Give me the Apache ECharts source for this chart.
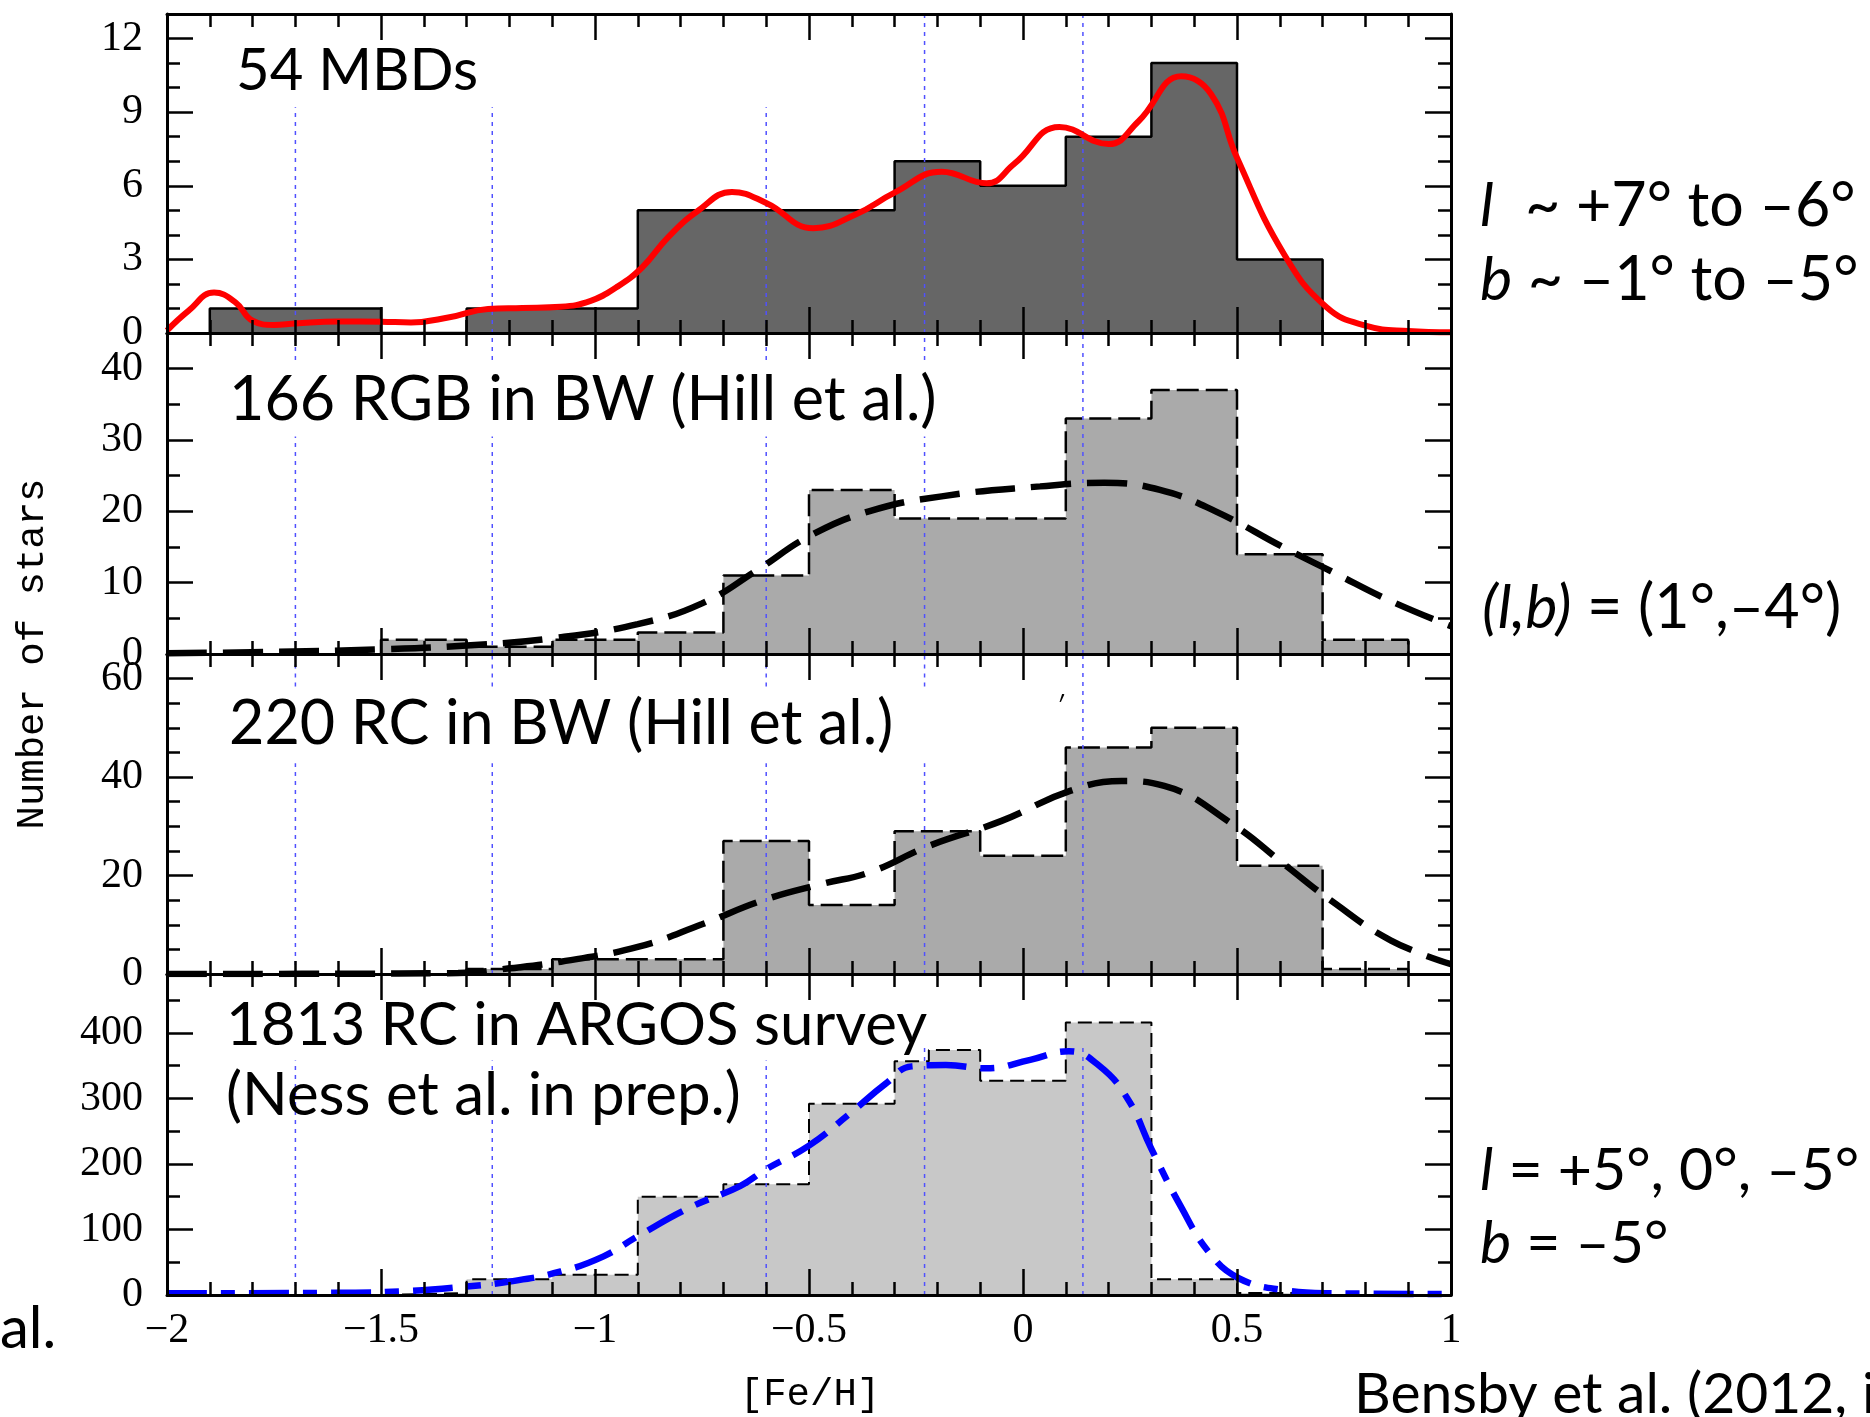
<!DOCTYPE html>
<html>
<head>
<meta charset="utf-8">
<title>[Fe/H] distributions</title>
<script src="https://cdn.jsdelivr.net/npm/echarts@6.0.0/dist/echarts.min.js"></script>
<style>
  html, body { margin: 0; padding: 0; background: #fff; }
  #chart { width: 1870px; height: 1417px; }
</style>
</head>
<body>
<div id="chart"></div>
<script>
// [Fe/H] axis
const xMin = -2, xMax = 1, xStep = 0.5, xMinorSplit = 5;

// y axes of the four panels, top to bottom
const yMax = [13, 45, 65, 490];
const yMajor = [3, 10, 20, 100];
const yMinor = [1, 5, 5, 50];

// histograms (bin edges + counts)
const mbdEdges = [-1.9, -1.7, -1.5, -1.3, -1.1, -0.9, -0.7, -0.5, -0.3, -0.1, 0.1, 0.3, 0.5, 0.7];
const mbdCounts = [1, 1, 0, 1, 1, 5, 5, 5, 7, 6, 8, 11, 3];

const rgbEdges = [-1.5, -1.3, -1.1, -0.9, -0.7, -0.5, -0.3, -0.1, 0.1, 0.3, 0.5, 0.7, 0.9];
const rgbCounts = [2, 1, 2, 3, 11, 23, 19, 19, 33, 37, 14, 2];

const rcEdges = [-1.3, -1.1, -0.9, -0.7, -0.5, -0.3, -0.1, 0.1, 0.3, 0.5, 0.7, 0.9];
const rcCounts = [1, 3, 3, 27, 14, 29, 24, 46, 50, 22, 1];

const argosEdges = [-1.5, -1.3, -1.1, -0.9, -0.7, -0.5, -0.3, -0.22, -0.1, 0.1, 0.3, 0.5, 0.7];
const argosCounts = [3, 24, 31, 150, 169, 292, 357, 374, 327, 416, 24, 3];

// smoothed distributions
const mbdFitX = [-2.0, -1.95, -1.89, -1.84, -1.80, -1.75, -1.70, -1.60, -1.50, -1.43, -1.34, -1.25, -1.17, -1.08, -1.01, -0.95, -0.89, -0.83, -0.76, -0.68, -0.60, -0.49, -0.39, -0.30, -0.19, -0.085, -0.02, 0.085, 0.20, 0.27, 0.37, 0.44, 0.50, 0.61, 0.71, 0.80, 0.90, 1.0];
const mbdFitY = [0.1, 0.9, 1.65, 1.25, 0.5, 0.33, 0.39, 0.47, 0.46, 0.43, 0.64, 0.98, 1.02, 1.07, 1.31, 1.86, 2.67, 3.89, 4.97, 5.75, 5.3, 4.27, 4.84, 5.72, 6.57, 6.1, 6.9, 8.4, 7.7, 8.63, 10.46, 9.72, 7.14, 3.21, 1.04, 0.3, 0.08, 0.03];

const rgbFitX = [-2.0, -1.75, -1.5, -1.3, -1.1, -0.9, -0.75, -0.62, -0.5, -0.36, -0.19, 0.04, 0.19, 0.32, 0.45, 0.61, 0.72, 0.86, 1.0];
const rgbFitY = [0.1, 0.3, 0.65, 1.2, 2.2, 4.2, 7.1, 11.8, 16.5, 20.0, 22.1, 23.5, 24.0, 23.0, 20.0, 14.9, 11.6, 7.4, 3.9];

const rcFitX = [-2.0, -1.6, -1.32, -1.2, -1.08, -0.9, -0.75, -0.61, -0.47, -0.36, -0.22, -0.05, 0.11, 0.23, 0.33, 0.49, 0.61, 0.72, 0.86, 1.0];
const rcFitY = [0, 0.05, 0.2, 1.15, 2.5, 5.5, 10.1, 14.9, 18.3, 20.6, 26.0, 31.1, 37.2, 39.2, 38.2, 30.4, 22.3, 14.9, 6.8, 2.0];

const argosFitX = [-2.0, -1.56, -1.44, -1.32, -1.2, -1.08, -0.98, -0.9, -0.78, -0.66, -0.6, -0.5, -0.41, -0.32, -0.26, -0.18, -0.085, 0.017, 0.107, 0.176, 0.244, 0.30, 0.368, 0.436, 0.504, 0.606, 0.719, 1.0];
const argosFitY = [2.5, 3.6, 6, 11.8, 20.5, 35.9, 59, 89.7, 133, 166.7, 192, 228, 274, 323, 349, 351, 346, 359, 372, 351, 300, 223, 136, 64, 25.6, 7.7, 2.6, 1.5];

// blue dotted guides and the parts of them that are drawn in each panel
const guideX = [-1.70, -1.24, -0.60, -0.23, 0.14];
const guideSpans = [
  [[[0, 9.2]], [[0, 9.2]], [[0, 9.2]], [[0, 13]], [[0, 13]]],
  [[[0, 30.5], [41.2, 45]], [[0, 30.5], [41.2, 45]], [[0, 30.5], [41.2, 45]], [[0, 30.5], [41.2, 45]], [[0, 45]]],
  [[[0, 42.8], [58.4, 65]], [[0, 42.8], [58.4, 65]], [[0, 42.8], [58.4, 65]], [[0, 42.8], [58.4, 65]], [[0, 65]]],
  [[[0, 358]], [[0, 358]], [[0, 358]], [[0, 377]], [[0, 381]]]
];

const panels = [
  { edges: mbdEdges, counts: mbdCounts, fill: '#666666', edgeType: 'solid', edgeWidth: 2.5,
    fitX: mbdFitX, fitY: mbdFitY, fitColor: '#ff0000', fitType: 'solid', fitWidth: 6 },
  { edges: rgbEdges, counts: rgbCounts, fill: '#aaaaaa', edgeType: [22, 7], edgeWidth: 2.5,
    fitX: rgbFitX, fitY: rgbFitY, fitColor: '#000000', fitType: [40, 16], fitWidth: 6.5 },
  { edges: rcEdges, counts: rcCounts, fill: '#aaaaaa', edgeType: [22, 7], edgeWidth: 2.5,
    fitX: rcFitX, fitY: rcFitY, fitColor: '#000000', fitType: [40, 16], fitWidth: 6.5 },
  { edges: argosEdges, counts: argosCounts, fill: '#c8c8c8', edgeType: [14, 7], edgeWidth: 2,
    fitX: argosFitX, fitY: argosFitY, fitColor: '#0000ff', fitType: [40, 14, 14, 14], fitWidth: 6.5 }
];

const grids = [
  { left: 167, top: 14, width: 1284, height: 319 },
  { left: 167, top: 333, width: 1284, height: 321 },
  { left: 167, top: 654, width: 1284, height: 320 },
  { left: 167, top: 974, width: 1284, height: 321 }
];

const tickFont = 'Liberation Serif';
const textFont = 'Lato';

function stepPoints(edges, counts) {
  const pts = [[edges[0], 0]];
  counts.forEach((c, i) => {
    pts.push([edges[i], c], [edges[i + 1], c]);
  });
  pts.push([edges[edges.length - 1], 0]);
  return pts;
}

function fmtFeH(v) {
  return v < 0 ? '\u2212' + Math.abs(v) : String(v);
}

const frameLine = { show: true, onZero: false, lineStyle: { color: '#000', width: 3 } };

let xAxes = [], yAxes = [], series = [];

grids.forEach((g, i) => {
  const xBase = {
    type: 'value', gridIndex: i, min: xMin, max: xMax, interval: xStep, z: 10,
    axisLine: frameLine,
    splitLine: { show: false },
    minorSplitLine: { show: false },
    axisTick: { show: true, inside: true, length: 26, lineStyle: { color: '#000', width: 2.5 } },
    minorTick: { show: true, splitNumber: xMinorSplit, length: 13, lineStyle: { color: '#000', width: 2.5 } }
  };
  xAxes.push(Object.assign({}, xBase, {
    position: 'bottom',
    axisLabel: i === 3
      ? { show: true, color: '#000', fontFamily: tickFont, fontSize: 42, margin: 15, formatter: fmtFeH }
      : { show: false }
  }));
  xAxes.push(Object.assign({}, xBase, { position: 'top', axisLabel: { show: false } }));

  const yBase = {
    type: 'value', gridIndex: i, min: 0, max: yMax[i], z: 10,
    splitLine: { show: false }
  };
  const major = Object.assign({}, yBase, {
    interval: yMajor[i],
    axisLine: frameLine,
    axisTick: { show: true, inside: true, length: 26, lineStyle: { color: '#000', width: 2.5 } }
  });
  const minor = Object.assign({}, yBase, {
    interval: yMinor[i],
    axisLine: { show: false, onZero: false },
    axisTick: { show: true, inside: true, length: 13, lineStyle: { color: '#000', width: 2.5 } },
    axisLabel: { show: false }
  });
  yAxes.push(Object.assign({}, major, {
    position: 'left',
    axisLabel: { show: true, color: '#000', fontFamily: tickFont, fontSize: 42, margin: 24, showMaxLabel: false }
  }));
  yAxes.push(Object.assign({}, minor, { position: 'left' }));
  yAxes.push(Object.assign({}, major, { position: 'right', axisLabel: { show: false } }));
  yAxes.push(Object.assign({}, minor, { position: 'right' }));

  const p = panels[i];
  series.push({
    type: 'line', xAxisIndex: 2 * i, yAxisIndex: 4 * i, z: 2, silent: true,
    symbol: 'none', data: stepPoints(p.edges, p.counts),
    lineStyle: { color: '#000', width: p.edgeWidth, type: p.edgeType },
    areaStyle: { color: p.fill, opacity: 1 }
  });

  guideX.forEach((gx, k) => {
    guideSpans[i][k].forEach(span => {
      series.push({
        type: 'line', xAxisIndex: 2 * i, yAxisIndex: 4 * i, z: 3, silent: true,
        symbol: 'none', data: [[gx, span[0]], [gx, span[1]]],
        lineStyle: { color: '#5050ff', width: 1.5, type: [4, 5] }
      });
    });
  });

  series.push({
    type: 'line', xAxisIndex: 2 * i, yAxisIndex: 4 * i, z: 4, silent: true,
    symbol: 'none', smooth: 0.45,
    data: p.fitX.map((x, k) => [x, p.fitY[k]]),
    lineStyle: { color: p.fitColor, width: p.fitWidth, type: p.fitType, cap: 'butt' }
  });
});

function label(text, x, y, size, extra) {
  return Object.assign({
    type: 'text', z: 20, silent: true,
    style: {
      text: text, x: x, y: y, fill: '#000',
      fontFamily: textFont, fontSize: size,
      align: 'left', verticalAlign: 'middle',
      textAlign: 'left', textVerticalAlign: 'middle',
      rich: { i: { fontFamily: textFont, fontSize: size, fontStyle: 'italic', fill: '#000' } }
    }
  }, extra || {});
}

const graphics = [
  label('54 MBDs', 236, 71, 58),
  label('166 RGB in BW (Hill et al.)', 229, 400, 61),
  label('220 RC in BW (Hill et al.)', 229, 724, 61),
  label('1813 RC in ARGOS survey', 226, 1026, 60),
  label('(Ness et al. in prep.)', 226, 1096, 60),
  label('{i|l}  ~ +7\u00b0 to \u20136\u00b0', 1480, 206, 61),
  label('{i|b} ~ \u20131\u00b0 to \u20135\u00b0', 1480, 280, 61),
  label('{i|(l,b)} = (1\u00b0,\u20134\u00b0)', 1482, 608, 61),
  label('{i|l} = +5\u00b0, 0\u00b0, \u20135\u00b0', 1480, 1171, 59),
  label('{i|b} = \u20135\u00b0', 1480, 1244, 59),
  label('Bensby et al. (2012, i', 1354, 1395, 57),
  label('al.', 0, 1329, 58),
  label('{i|\u02b9}', 1056, 706, 26),
  {
    type: 'text', z: 20, silent: true,
    style: {
      text: '[Fe/H]', x: 810, y: 1395, fill: '#000',
      fontFamily: 'Liberation Mono', fontSize: 39,
      align: 'center', verticalAlign: 'middle', textAlign: 'center', textVerticalAlign: 'middle'
    }
  },
  {
    type: 'text', z: 20, silent: true, x: 33, y: 654, rotation: Math.PI / 2,
    style: {
      text: 'Number of stars', x: 0, y: 0, fill: '#000',
      fontFamily: 'Liberation Mono', fontSize: 39,
      align: 'center', verticalAlign: 'middle', textAlign: 'center', textVerticalAlign: 'middle'
    }
  }
];

const chart = echarts.init(document.getElementById('chart'), null, { renderer: 'canvas' });
chart.setOption({
  animation: false,
  backgroundColor: '#ffffff',
  grid: grids.map(g => Object.assign({ outerBoundsMode: 'none', containLabel: false }, g)),
  xAxis: xAxes,
  yAxis: yAxes,
  series: series,
  graphic: graphics
});
</script>
</body>
</html>
